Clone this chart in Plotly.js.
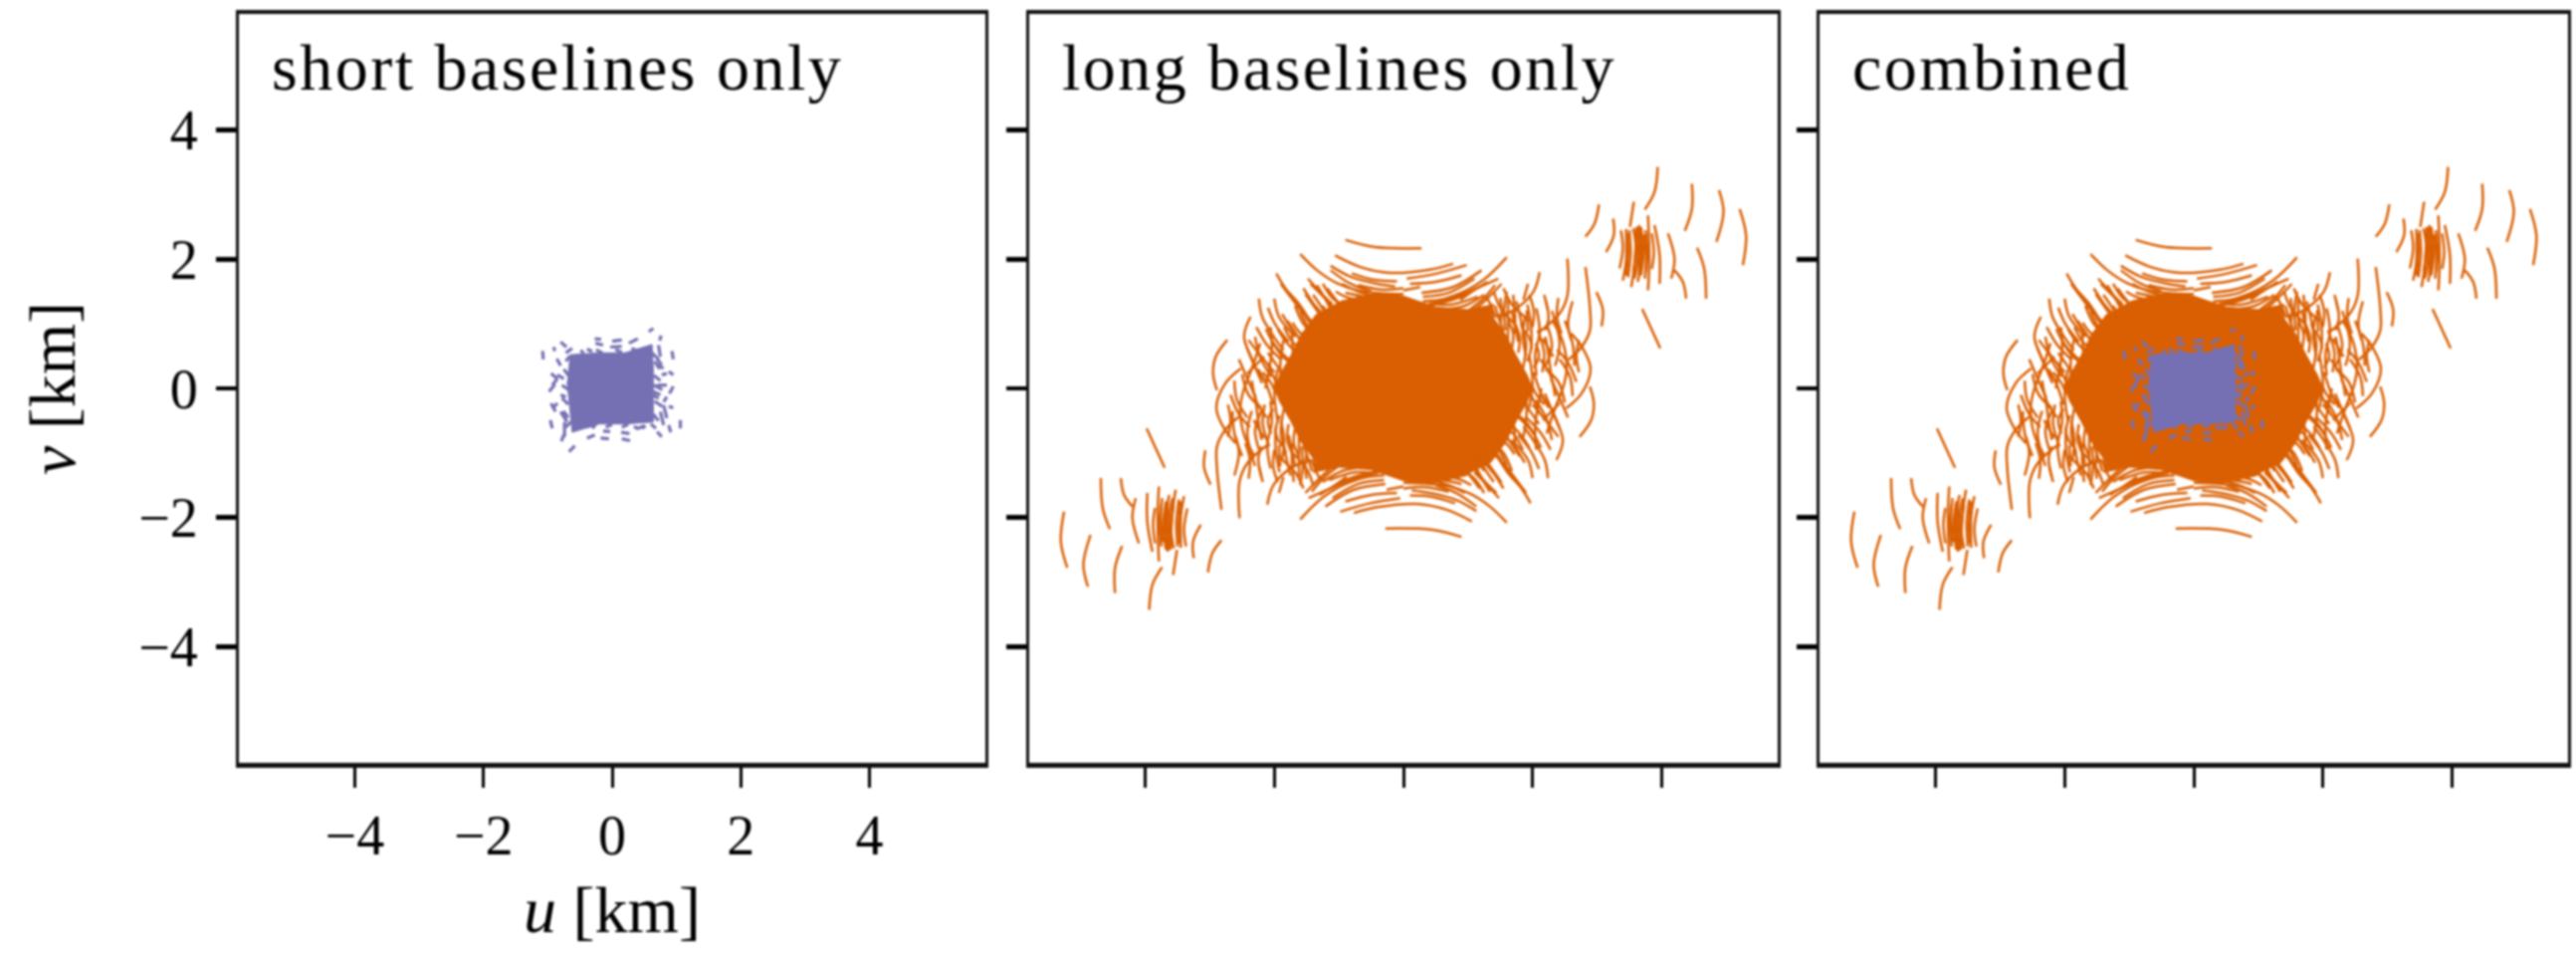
<!DOCTYPE html>
<html>
<head>
<meta charset="utf-8">
<script src="https://cdn.plot.ly/plotly-3.0.1.min.js"></script>
<style>
html,body{margin:0;padding:0;background:#fff}
#chart{width:2588px;height:967px;filter:blur(0.8px)}
.annotation-text{letter-spacing:2.5px}
</style>
</head>
<body>
<div id="chart"></div>
<script>
const panelTitles = ["short baselines only", "long baselines only", "combined"];
const tickValues = [-4, -2, 0, 2, 4];
const tickLabels = ["\u22124", "\u22122", "0", "2", "4"];

// solid core of the long-baseline coverage, outline
const longCoreU = [-.98,-.4,0,.5,1.0,1.4,1.35,1.58,1.74,1.92,2.0,1.92,1.74,1.58,1.35,1.0,.98,.4,0,-.5,-1.0,-1.4,-1.35,-1.58,-1.74,-1.92,-2.0,-1.92,-1.74,-1.58,-1.35];
const longCoreV = [1.35,1.48,1.43,1.26,1.22,1.3,1.15,.84,.52,.2,0,-.2,-.52,-.84,-1.15,-1.32,-1.35,-1.48,-1.43,-1.26,-1.22,-1.3,-1.15,-.84,-.52,-.2,0,.2,.52,.84,1.15];

// long-baseline tracks, [u,v,u,v,...] in km
const longArcsA = [
[-.90,2.30,-.45,2.19,.28,2.17],
[-1.60,2.08,-1.34,1.83,-1.03,1.63,-.67,1.51,0,1.46],
[-1.06,2.06,-.67,1.88,-.21,1.79,.41,1.84,.77,1.93],
[-1.13,1.90,-.82,1.73,-.41,1.62,-.13,1.58],
[.05,1.70,.52,1.78,.98,1.91],
[0,1.52,.26,1.57],
[.28,1.48,.77,1.57,1.21,1.83],
[.26,1.24,.77,1.39,1.13,1.55,1.47,1.70],
[.77,1.03,1.13,1.24,1.52,1.62],
[1.60,2.03,1.24,1.68,.77,1.42,.2,1.25],
[-1.13,1.83,-.82,1.62,-.5,1.50],
[-1.97,1.78,-1.83,1.55,-1.62,1.31,-1.41,.98],
[-1.44,1.62,-1.24,1.42,-.98,1.11],
[-1.34,1.60,-1.16,1.29,-1.03,1.0],
[-1.40,1.45,-1.20,1.15,-1.10,.95],
[-2.24,1.39,-2.19,1.11,-2.01,.80,-1.86,.59],
[-2.0,1.39,-1.93,1.11,-1.68,.80],
[-1.68,1.28,-1.55,1.0,-1.36,.82],
[-1.60,1.2,-1.45,.9,-1.3,.75],
[-2.37,1.11,-2.47,.80,-2.32,.39,-2.19,.08],
[-2.73,.75,-2.91,.49,-2.95,.23,-2.89,-.03],
[-2.52,.31,-2.76,.08,-2.90,-.3,-2.78,-.62,-2.60,-.85],
[-2.06,.95,-2.04,.59,-2.14,0],
[-1.86,.75,-1.91,.34,-1.88,0],
[-2.22,.70,-2.32,.39,-2.47,0],
[-1.73,.85,-1.70,.34],
[-2.16,.49,-2.42,.23],
[-2.47,0,-2.53,-.31,-2.47,-.72,-2.32,-1.03],
[-2.55,-.44,-2.76,-.64,-2.89,-.90,-2.89,-1.24,-2.82,-1.88],
[-2.11,-.88,-2.42,-1.16,-2.54,-1.44,-2.54,-2.01],
[-2.06,-.2,-2.04,-.52,-2.11,-.88,-2.06,-1.24],
[-2.32,-.49,-2.16,-.77],
[-1.93,-.88,-1.91,-1.21],
[-1.78,-.72,-1.68,-1.19],
[-1.62,-.67,-1.62,-.98,-1.62,-1.37],
[-2.24,-1.21,-2.2,-1.37],
[-1.42,-1.11,-1.70,-1.21,-2.01,-1.49,-2.11,-1.80],
[-1.86,-1.37,-1.93,-1.62],
[-1.13,-1.55,-.88,-1.37],
[-1.95,.3,-2.0,-.1,-1.95,-.5],
[-2.3,-.1,-2.25,-.5,-2.2,-.8],
[-1.85,-.3,-1.9,-.7,-1.82,-1.0],
[-2.65,-.35,-2.62,-.7,-2.5,-1.05],
[-2.40,.75,-2.25,.55,-2.0,.25],
[-2.13,.92,-1.98,.65,-1.75,.42],
[-2.55,.45,-2.42,.15,-2.30,-.12],
[-2.25,.30,-2.12,.05,-2.02,-.25],
[-2.62,.12,-2.58,-.18,-2.42,-.45],
[-1.80,1.05,-1.62,.78,-1.5,.62],
[-1.52,1.12,-1.35,.88,-1.15,.72],
[-1.25,1.28,-1.1,1.05,-.95,.95],
[-1.52,1.46,-1.35,1.22,-1.2,1.02],
[-1.18,1.55,-1.0,1.32,-.85,1.2],
[-.95,1.62,-.7,1.5,-.4,1.42],
[-.9,1.48,-.6,1.42,-.3,1.38],
[-2.35,-.35,-2.42,-.7,-2.3,-1.2],
[-2.2,-.9,-2.25,-1.1,-2.18,-1.45],
[-2.0,-.95,-2.02,-1.2,-1.95,-1.45],
[-1.85,-.9,-1.8,-1.15,-1.75,-1.35],
[-1.5,-1.0,-1.52,-1.2,-1.5,-1.4],
[-2.15,-.25,-2.18,-.55,-2.08,-.9],
[-1.95,-1.05,-1.68,-1.3,-1.55,-1.55],
[-1.72,-1.0,-1.5,-1.25,-1.4,-1.5],
[-1.90,1.62,-1.72,1.38,-1.5,1.12],
[-1.78,1.48,-1.6,1.22,-1.38,1.0],
[-1.55,1.55,-1.4,1.32,-1.25,1.15],
[-1.48,1.7,-1.3,1.5,-1.1,1.3],
[-1.25,1.62,-1.12,1.42,-.98,1.3],
[-1.05,1.5,-.9,1.42,-.75,1.38],
[-2.1,1.25,-1.98,.98,-1.78,.72],
[-1.88,1.15,-1.72,.9,-1.55,.72],
[-2.28,.95,-2.12,.68,-1.9,.45],
[-2.42,.62,-2.28,.3,-2.12,.1],
[-2.3,.8,-2.22,.48,-2.05,.18],
[-2.5,.22,-2.4,-.1,-2.2,-.3],
[-2.35,.12,-2.28,-.2,-2.12,-.45],
[-2.68,-.1,-2.55,-.4,-2.38,-.6],
[-2.12,.4,-2.0,.15,-1.9,-.05],
[-2.2,-.35,-2.3,-.65,-2.22,-1.0],
[-2.45,-.85,-2.38,-1.1,-2.4,-1.4],
[-1.98,-.6,-1.98,-.95,-1.92,-1.3],
[-1.72,-.85,-1.73,-1.1,-1.7,-1.45],
[-1.58,-.9,-1.56,-1.2,-1.6,-1.5],
[-1.9,-.5,-1.85,-.8,-1.88,-1.1],
[-2.6,-.75,-2.55,-1.0,-2.62,-1.35],
[-1.42,-1.12,-1.35,-1.3,-1.28,-1.42],
[-2.72,-.25,-2.68,-.5,-2.72,-.75],
[-1.95,.92,-1.82,.72,-1.65,.55],
[-2.02,.7,-1.88,.5,-1.72,.38],
[-1.85,.95,-1.72,.72,-1.58,.6],
[-2.1,.55,-1.98,.38,-1.85,.2],
[-1.72,1.02,-1.6,.86,-1.45,.78],
[-2.18,.25,-2.05,.08,-1.98,-.08],
[-2.02,-.32,-2.1,-.5,-2.05,-.7],
[-1.92,-.42,-1.98,-.68,-1.88,-.9],
[-1.78,-.55,-1.8,-.8,-1.72,-1.02],
[-1.68,-.62,-1.7,-.85,-1.62,-1.05],
[-1.55,-.88,-1.48,-1.08,-1.42,-1.28],
[-1.42,-.95,-1.38,-1.15,-1.36,-1.3],
[.4,1.32,.75,1.3,1.15,1.42],
[.6,1.22,.95,1.28,1.25,1.45],
[.3,1.35,.6,1.38,.95,1.5],
[-.8,1.78,-.45,1.68,-.1,1.66],
[.1,1.62,.5,1.65,.9,1.75],
[.3,1.42,.7,1.48,1.1,1.7],
[-.7,1.6,-.35,1.53,0,1.55],
[.5,1.3,.9,1.42,1.3,1.65],
[1.0,1.2,1.25,1.4,1.42,1.6],
[-5.26,-1.91,-5.31,-2.37,-5.21,-2.78],
[-4.85,-2.27,-4.96,-2.73,-4.89,-3.07],
[-4.36,-2.44,-4.47,-2.78,-4.47,-3.17],
[-3.74,-2.77,-3.89,-3.04,-3.94,-3.43],
[-3.14,-2.11,-3.26,-2.37,-3.25,-2.63],
[-2.82,-2.35,-2.96,-2.55,-3.03,-2.85],
[-4.69,-1.39,-4.66,-1.86,-4.55,-2.18],
[-4.38,-1.39,-4.33,-1.65,-4.20,-1.83],
[-4.15,-1.70,-4.20,-2.01,-4.10,-2.40],
[-3.97,-1.62,-3.97,-2.06,-3.89,-2.53],
[-3.79,-1.52,-3.81,-2.01,-3.79,-2.68],
[-3.53,-1.57,-3.58,-1.91,-3.61,-2.50],
[-3.63,-1.65,-3.69,-2.01,-3.65,-2.53],
[-3.74,-1.7,-3.76,-2.01,-3.73,-2.38],
[-3.40,-1.67,-3.45,-1.98,-3.45,-2.47],
[-3.35,-1.86,-3.40,-2.17,-3.37,-2.45],
[-3.51,-2.50,-3.57,-2.89],
[-3.98,-.62,-3.70,-1.23],
[-3.48,-1.72,-3.52,-2.1,-3.5,-2.45],
[-3.58,-1.7,-3.63,-2.0,-3.6,-2.42],
[-3.68,-1.75,-3.72,-2.1,-3.68,-2.5],
[-3.85,-1.85,-3.88,-2.1,-3.85,-2.4],
[-3.56,-1.8,-3.6,-2.2,-3.56,-2.48],
[-3.45,-1.75,-3.48,-2.1,-3.47,-2.4],
[-3.75,-1.8,-3.78,-2.1,-3.75,-2.45],
[-3.65,-1.75,-3.66,-2.15,-3.62,-2.5],
[-3.07,-.96,-3.09,-1.22,-2.99,-1.49]
];
const longArcsB = [
[.90,-2.30,.45,-2.19,-.28,-2.17],
[1.60,-2.08,1.34,-1.83,1.03,-1.63,.67,-1.51,0,-1.46],
[1.06,-2.06,.67,-1.88,.21,-1.79,-.41,-1.84,-.77,-1.93],
[1.13,-1.90,.82,-1.73,.41,-1.62,.13,-1.58],
[-.05,-1.70,-.52,-1.78,-.98,-1.91],
[0,-1.52,-.26,-1.57],
[-.28,-1.48,-.77,-1.57,-1.21,-1.83],
[-.26,-1.24,-.77,-1.39,-1.13,-1.55,-1.47,-1.70],
[-.77,-1.03,-1.13,-1.24,-1.52,-1.62],
[-1.60,-2.03,-1.24,-1.68,-.77,-1.42,-.2,-1.25],
[1.13,-1.83,.82,-1.62,.5,-1.50],
[1.97,-1.78,1.83,-1.55,1.62,-1.31,1.41,-.98],
[1.44,-1.62,1.24,-1.42,.98,-1.11],
[1.34,-1.60,1.16,-1.29,1.03,-1.0],
[1.40,-1.45,1.20,-1.15,1.10,-.95],
[2.24,-1.39,2.19,-1.11,2.01,-.80,1.86,-.59],
[2.0,-1.39,1.93,-1.11,1.68,-.80],
[1.68,-1.28,1.55,-1.0,1.36,-.82],
[1.60,-1.2,1.45,-.9,1.3,-.75],
[2.37,-1.11,2.47,-.80,2.32,-.39,2.19,-.08],
[2.73,-.75,2.91,-.49,2.95,-.23,2.89,.03],
[2.52,-.31,2.76,-.08,2.90,.3,2.78,.62,2.60,.85],
[2.06,-.95,2.04,-.59,2.14,0],
[1.86,-.75,1.91,-.34,1.88,0],
[2.22,-.70,2.32,-.39,2.47,0],
[1.73,-.85,1.70,-.34],
[2.16,-.49,2.42,-.23],
[2.47,0,2.53,.31,2.47,.72,2.32,1.03],
[2.55,.44,2.76,.64,2.89,.90,2.89,1.24,2.82,1.88],
[2.11,.88,2.42,1.16,2.54,1.44,2.54,2.01],
[2.06,.2,2.04,.52,2.11,.88,2.06,1.24],
[2.32,.49,2.16,.77],
[1.93,.88,1.91,1.21],
[1.78,.72,1.68,1.19],
[1.62,.67,1.62,.98,1.62,1.37],
[2.24,1.21,2.2,1.37],
[1.42,1.11,1.70,1.21,2.01,1.49,2.11,1.80],
[1.86,1.37,1.93,1.62],
[1.13,1.55,.88,1.37],
[1.95,-.3,2.0,.1,1.95,.5],
[2.3,.1,2.25,.5,2.2,.8],
[1.85,.3,1.9,.7,1.82,1.0],
[2.65,.35,2.62,.7,2.5,1.05],
[2.40,-.75,2.25,-.55,2.0,-.25],
[2.13,-.92,1.98,-.65,1.75,-.42],
[2.55,-.45,2.42,-.15,2.30,.12],
[2.25,-.30,2.12,-.05,2.02,.25],
[2.62,-.12,2.58,.18,2.42,.45],
[1.80,-1.05,1.62,-.78,1.5,-.62],
[1.52,-1.12,1.35,-.88,1.15,-.72],
[1.25,-1.28,1.1,-1.05,.95,-.95],
[1.52,-1.46,1.35,-1.22,1.2,-1.02],
[1.18,-1.55,1.0,-1.32,.85,-1.2],
[.95,-1.62,.7,-1.5,.4,-1.42],
[.9,-1.48,.6,-1.42,.3,-1.38],
[2.35,.35,2.42,.7,2.3,1.2],
[2.2,.9,2.25,1.1,2.18,1.45],
[2.0,.95,2.02,1.2,1.95,1.45],
[1.85,.9,1.8,1.15,1.75,1.35],
[1.5,1.0,1.52,1.2,1.5,1.4],
[2.15,.25,2.18,.55,2.08,.9],
[1.95,1.05,1.68,1.3,1.55,1.55],
[1.72,1.0,1.5,1.25,1.4,1.5],
[1.90,-1.62,1.72,-1.38,1.5,-1.12],
[1.78,-1.48,1.6,-1.22,1.38,-1.0],
[1.55,-1.55,1.4,-1.32,1.25,-1.15],
[1.48,-1.7,1.3,-1.5,1.1,-1.3],
[1.25,-1.62,1.12,-1.42,.98,-1.3],
[1.05,-1.5,.9,-1.42,.75,-1.38],
[2.1,-1.25,1.98,-.98,1.78,-.72],
[1.88,-1.15,1.72,-.9,1.55,-.72],
[2.28,-.95,2.12,-.68,1.9,-.45],
[2.42,-.62,2.28,-.3,2.12,-.1],
[2.3,-.8,2.22,-.48,2.05,-.18],
[2.5,-.22,2.4,.1,2.2,.3],
[2.35,-.12,2.28,.2,2.12,.45],
[2.68,.1,2.55,.4,2.38,.6],
[2.12,-.4,2.0,-.15,1.9,.05],
[2.2,.35,2.3,.65,2.22,1.0],
[2.45,.85,2.38,1.1,2.4,1.4],
[1.98,.6,1.98,.95,1.92,1.3],
[1.72,.85,1.73,1.1,1.7,1.45],
[1.58,.9,1.56,1.2,1.6,1.5],
[1.9,.5,1.85,.8,1.88,1.1],
[2.6,.75,2.55,1.0,2.62,1.35],
[1.42,1.12,1.35,1.3,1.28,1.42],
[2.72,.25,2.68,.5,2.72,.75],
[1.95,-.92,1.82,-.72,1.65,-.55],
[2.02,-.7,1.88,-.5,1.72,-.38],
[1.85,-.95,1.72,-.72,1.58,-.6],
[2.1,-.55,1.98,-.38,1.85,-.2],
[1.72,-1.02,1.6,-.86,1.45,-.78],
[2.18,-.25,2.05,-.08,1.98,.08],
[2.02,.32,2.1,.5,2.05,.7],
[1.92,.42,1.98,.68,1.88,.9],
[1.78,.55,1.8,.8,1.72,1.02],
[1.68,.62,1.7,.85,1.62,1.05],
[1.55,.88,1.48,1.08,1.42,1.28],
[1.42,.95,1.38,1.15,1.36,1.3],
[-.4,-1.32,-.75,-1.3,-1.15,-1.42],
[-.6,-1.22,-.95,-1.28,-1.25,-1.45],
[-.3,-1.35,-.6,-1.38,-.95,-1.5],
[.8,-1.78,.45,-1.68,.1,-1.66],
[-.1,-1.62,-.5,-1.65,-.9,-1.75],
[-.3,-1.42,-.7,-1.48,-1.1,-1.7],
[.7,-1.6,.35,-1.53,0,-1.55],
[-.5,-1.3,-.9,-1.42,-1.3,-1.65],
[-1.0,-1.2,-1.25,-1.4,-1.42,-1.6],
[5.26,1.91,5.31,2.37,5.21,2.78],
[4.85,2.27,4.96,2.73,4.89,3.07],
[4.36,2.44,4.47,2.78,4.47,3.17],
[3.74,2.77,3.89,3.04,3.94,3.43],
[3.14,2.11,3.26,2.37,3.25,2.63],
[2.82,2.35,2.96,2.55,3.03,2.85],
[4.69,1.39,4.66,1.86,4.55,2.18],
[4.38,1.39,4.33,1.65,4.20,1.83],
[4.15,1.70,4.20,2.01,4.10,2.40],
[3.97,1.62,3.97,2.06,3.89,2.53],
[3.79,1.52,3.81,2.01,3.79,2.68],
[3.53,1.57,3.58,1.91,3.61,2.50],
[3.63,1.65,3.69,2.01,3.65,2.53],
[3.74,1.7,3.76,2.01,3.73,2.38],
[3.40,1.67,3.45,1.98,3.45,2.47],
[3.35,1.86,3.40,2.17,3.37,2.45],
[3.51,2.50,3.57,2.89],
[3.98,.62,3.70,1.23],
[3.48,1.72,3.52,2.1,3.5,2.45],
[3.58,1.7,3.63,2.0,3.6,2.42],
[3.68,1.75,3.72,2.1,3.68,2.5],
[3.85,1.85,3.88,2.1,3.85,2.4],
[3.56,1.8,3.6,2.2,3.56,2.48],
[3.45,1.75,3.48,2.1,3.47,2.4],
[3.75,1.8,3.78,2.1,3.75,2.45],
[3.65,1.75,3.66,2.15,3.62,2.5],
[3.07,.96,3.09,1.22,2.99,1.49]
];

// solid core of the short-baseline coverage
const shortCoreU = [-.66,-.2,.2,.62,.64,.64,.2,-.2,-.62,-.66,-.7];
const shortCoreV = [.52,.55,.55,.68,.3,-.52,-.55,-.55,-.68,-.3,.1];

// short-baseline tracks, [u,v,u,v] in km
const shortArcs = [
[.57,.88,.64,.93],[.74,.74,.76,.82],[-.27,.77,-.17,.76],[-.26,.70,-.14,.67],[0,.73,.15,.75],
[-.03,.64,.15,.65],[.26,.70,.40,.77],[-.80,.72,-.71,.64],[-.91,.64,-.89,.58],[-1.08,.58,-1.07,.45],
[.93,.58,.95,.45],[.72,.67,.75,.49],[-.49,.59,-.44,.54],[-.39,.61,-.31,.57],[-.86,.46,-.80,.35],
[-.95,.23,-.85,.15],[-.85,.15,-.93,.05],[-.98,-.05,-.89,.06],[-.95,-.23,-.88,-.36],[-.85,-.23,-.93,-.31],
[-.96,-.49,-.93,-.62],[-.74,-.52,-.74,-.75],[-.79,-.82,-.75,-.72],[-.67,-.98,-.58,-.89],[-.39,-.77,-.27,-.72],
[-.18,-.77,-.05,-.78],[-.14,-.66,-.03,-.67],[.14,-.68,.27,-.70],[.15,-.78,.28,-.81],[.34,-.59,.41,-.63],
[.46,-.62,.52,-.58],[.70,-.67,.77,-.75],[.88,-.57,.91,-.68],[1.06,-.49,1.06,-.62],[.80,-.26,.85,-.46],
[.75,-.36,.80,-.57],[.95,.03,.89,-.08],[.85,-.13,.80,-.21],[.88,-.28,.95,-.30],[.88,.26,.95,.21],
[.77,.21,.85,.23],[.70,.05,.85,.05],[.64,-.05,.75,-.10],[.70,.36,.80,.31],[.77,.36,.70,.46],
[-.80,-.36,-.70,-.52],[-.72,-.13,-.80,-.10],[-.85,.21,-.75,.15],[-.59,-.41,-.54,-.57],[-.31,-.62,-.26,-.57],
[.62,.55,.72,.45],[.65,.2,.75,.12],[.65,.05,.78,-.02],[.66,-.2,.78,-.28],[.64,-.4,.72,-.5],[.66,.42,.74,.3],
[.64,-.1,.72,-.16],[.6,-.55,.68,-.62],[-.72,.55,-.62,.62],[-.75,.3,-.68,.2],[-.78,.05,-.68,-.02],[-.78,-.15,-.68,-.25],
[-.76,-.35,-.68,-.45],[-.72,.42,-.66,.5],[-.72,-.6,-.64,-.52],[-.25,.6,-.15,.55],[.05,.6,.15,.56],[.3,.62,.4,.58],
[-.4,-.6,-.3,-.56],[-.1,-.6,0,-.56],[.15,-.6,.25,-.56],[.4,-.62,.5,-.58]
];

const ORANGE = "#d95f02", PURPLE = "#7570b3", FONT = "Liberation Serif, serif";

function tracks(list) {
  const x = [], y = [];
  list.forEach(a => {
    for (let i = 0; i < a.length; i += 2) { x.push(a[i]); y.push(a[i + 1]); }
    x.push(null); y.push(null);
  });
  return {x, y};
}
const longT = tracks(longArcsA.concat(longArcsB));
const shortT = tracks(shortArcs);

function longTraces(ax, ay) {
  return [
    {x: longCoreU, y: longCoreV, xaxis: ax, yaxis: ay, mode: "lines", fill: "toself", fillcolor: ORANGE,
     line: {color: ORANGE, width: 1}, hoverinfo: "skip", showlegend: false},
    {x: longT.x, y: longT.y, xaxis: ax, yaxis: ay, mode: "lines",
     line: {color: ORANGE, width: 2.5, shape: "spline", smoothing: 1}, hoverinfo: "skip", showlegend: false}
  ];
}
function shortTraces(ax, ay) {
  return [
    {x: shortCoreU, y: shortCoreV, xaxis: ax, yaxis: ay, mode: "lines", fill: "toself", fillcolor: PURPLE,
     line: {color: PURPLE, width: 1}, hoverinfo: "skip", showlegend: false},
    {x: shortT.x, y: shortT.y, xaxis: ax, yaxis: ay, mode: "lines",
     line: {color: PURPLE, width: 3.2}, hoverinfo: "skip", showlegend: false}
  ];
}
const data = [].concat(shortTraces("x", "y"), longTraces("x2", "y2"), longTraces("x3", "y3"), shortTraces("x3", "y3"));

const W = 2588, H = 967;
const yDom = [1 - 766 / H, 1 - 14 / H];
function xAxis(l, r, labels, anchor) {
  const a = {domain: [l / W, r / W], range: [-5.8, 5.8], anchor: anchor, tickmode: "array", tickvals: tickValues,
    ticktext: tickLabels, ticks: "outside", ticklen: 20, tickwidth: 3, tickcolor: "#000", showgrid: false, zeroline: false,
    showline: true, mirror: true, linecolor: "#111", linewidth: 4.5, showticklabels: labels,
    tickfont: {family: FONT, size: 56, color: "#000"}, ticklabelstandoff: 0};
  if (labels) a.title = {text: "<i>u</i> [km]", font: {family: FONT, size: 66, color: "#000"}, standoff: 22};
  return a;
}
function yAxis(labels, anchor) {
  const a = {domain: yDom, range: [-5.8, 5.8], anchor: anchor, tickmode: "array", tickvals: tickValues,
    ticktext: tickLabels, ticks: "outside", ticklen: 20, tickwidth: 4.5, tickcolor: "#000", showgrid: false, zeroline: false,
    showline: true, mirror: true, linecolor: "#111", linewidth: 3, showticklabels: labels,
    tickfont: {family: FONT, size: 56, color: "#000"}, ticklabelstandoff: 7};
  if (labels) a.title = {text: "<i>v</i> [km]", font: {family: FONT, size: 66, color: "#000"}, standoff: 43};
  return a;
}
const layout = {
  width: W, height: H, margin: {l: 0, r: 0, t: 0, b: 0}, paper_bgcolor: "#fff", plot_bgcolor: "#fff", showlegend: false,
  xaxis: xAxis(240, 990, true, "y"), yaxis: yAxis(true, "x"),
  xaxis2: xAxis(1034, 1786, false, "y2"), yaxis2: yAxis(false, "x2"),
  xaxis3: xAxis(1828, 2580, false, "y3"), yaxis3: yAxis(false, "x3"),
  annotations: panelTitles.map((t, i) => ({
    text: t, xref: i ? "x" + (i + 1) : "x", yref: i ? "y" + (i + 1) : "y", x: -5.32, y: 4.98,
    xanchor: "left", yanchor: "middle", showarrow: false, font: {family: FONT, size: 66, color: "#000"}
  }))
};
Plotly.newPlot("chart", data, layout, {displayModeBar: false, staticPlot: true});
</script>
</body>
</html>
